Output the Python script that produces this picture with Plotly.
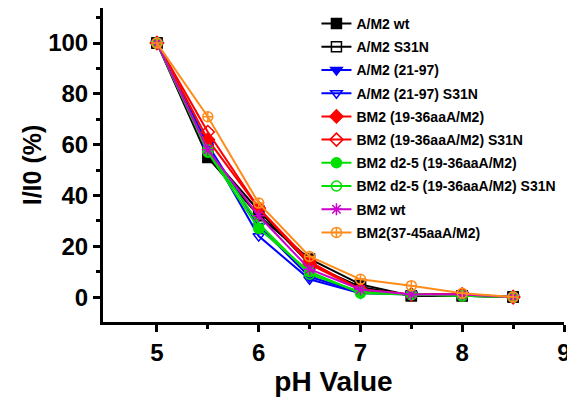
import plotly.graph_objects as go

# pH values
ph = [5, 5.5, 6, 6.5, 7, 7.5, 8, 8.5]

# series names
names = [
    "A/M2 wt",
    "A/M2 S31N",
    "A/M2 (21-97)",
    "A/M2 (21-97) S31N",
    "BM2 (19-36aaA/M2)",
    "BM2 (19-36aaA/M2) S31N",
    "BM2 d2-5 (19-36aaA/M2)",
    "BM2 d2-5 (19-36aaA/M2) S31N",
    "BM2 wt",
    "BM2(37-45aaA/M2)",
]

# I/I0 (%)
am2_wt = [100, 55, 32, 15, 5, 0.5, 0.5, 0]
am2_s31n = [100, 57, 34, 13, 4, 0.5, 0.5, 0]
am2_2197 = [100, 60, 28, 8, 2, 1, 1, 0]
am2_2197_s31n = [100, 59, 24, 7, 1.5, 1, 1, 0]
bm2_1936 = [100, 62, 35, 14, 3, 1, 1, 0]
bm2_1936_s31n = [100, 65, 35, 13, 3, 1, 1, 0]
bm2_d25 = [100, 57, 27, 10, 1.5, 1, 0.5, 0]
bm2_d25_s31n = [100, 58, 29, 9, 2, 1, 0.5, 0]
bm2_wt = [100, 58, 32, 11, 3, 1, 1, 0]
bm2_3745 = [100, 71, 37, 16, 7, 4.5, 1.5, 0]

values = [am2_wt, am2_s31n, am2_2197, am2_2197_s31n, bm2_1936,
          bm2_1936_s31n, bm2_d25, bm2_d25_s31n, bm2_wt, bm2_3745]

colors = ["#000000", "#000000", "#0000ff", "#0000ff", "#ff0000",
          "#ff0000", "#00e000", "#00e000", "#cc00cc", "#ff8c1a"]
symbols = ["square", "square-open", "triangle-down", "triangle-down-open",
           "diamond", "diamond-open", "circle", "circle-open",
           "asterisk-open", "circle-cross-open"]

fig = go.Figure()
for name, y, c, s in zip(names, values, colors, symbols):
    fig.add_trace(go.Scatter(
        x=ph, y=y, name=name, mode="lines+markers",
        line=dict(color=c, width=2),
        marker=dict(symbol=s, color=c, size=10, line=dict(color=c, width=1.5)),
        legendgroup=name,
    ))

# the page body adds 8px around the plot, so the figure is 8px smaller
bold = "Liberation Sans"
fig.update_layout(
    width=567, height=392,
    margin=dict(l=95, r=11, t=0, b=78),
    paper_bgcolor="white", plot_bgcolor="white",
    font=dict(family=bold, color="black"),
    legend=dict(
        x=0.463, y=1.0, xanchor="left", yanchor="top",
        font=dict(size=14, family=bold, weight="bold"),
        traceorder="grouped", tracegroupgap=2,
        bgcolor="rgba(0,0,0,0)",
    ),
    xaxis=dict(
        range=[4.47, 9.0], tickvals=[5, 6, 7, 8, 9],
        showgrid=False, zeroline=False,
        showline=True, linecolor="black", linewidth=3,
        ticks="outside", ticklen=7, tickwidth=3, tickcolor="black",
        minor=dict(tickvals=[5.5, 6.5, 7.5, 8.5], ticks="outside",
                   ticklen=4, tickwidth=3, tickcolor="black"),
        tickfont=dict(size=24, family=bold, weight="bold"),
        title=dict(text="pH Value", font=dict(size=28, family=bold, weight="bold"),
                   standoff=4),
    ),
    yaxis=dict(
        range=[-9.8, 113.8], tickvals=[0, 20, 40, 60, 80, 100],
        showgrid=False, zeroline=False,
        showline=True, linecolor="black", linewidth=3,
        ticks="outside", ticklen=7, tickwidth=3, tickcolor="black",
        minor=dict(tickvals=[10, 30, 50, 70, 90, 110], ticks="outside",
                   ticklen=4, tickwidth=3, tickcolor="black"),
        tickfont=dict(size=24, family=bold, weight="bold"),
        title=dict(text="I/I0 (%)", font=dict(size=25, family=bold, weight="bold"),
                   standoff=0),
    ),
)

fig.write_html("out.html")
